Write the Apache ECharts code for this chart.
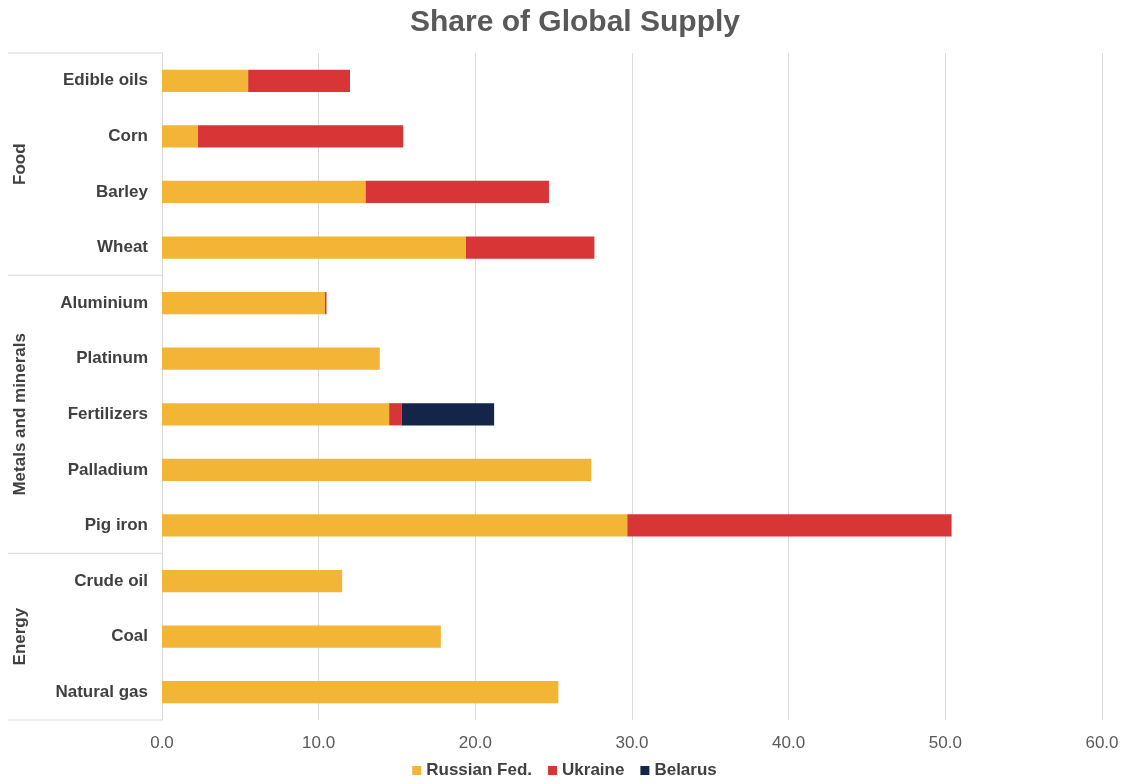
<!DOCTYPE html>
<html>
<head>
<meta charset="utf-8">
<script src="https://cdn.jsdelivr.net/npm/echarts@6/dist/echarts.min.js"></script>
<style>html,body{margin:0;padding:0;background:#fff}#c{width:1129px;height:784px}</style>
</head>
<body>
<div id="c"></div>
<script>
const categories = ['Edible oils','Corn','Barley','Wheat','Aluminium','Platinum','Fertilizers','Palladium','Pig iron','Crude oil','Coal','Natural gas'];
const russia  = [5.5, 2.3, 13.0, 19.4, 10.4, 13.9, 14.5, 27.4, 29.7, 11.5, 17.8, 25.3];
const ukraine = [6.5, 13.1, 11.7, 8.2, 0.1, 0, 0.8, 0, 20.7, 0, 0, 0];
const belarus = [0, 0, 0, 0, 0, 0, 5.9, 0, 0, 0, 0, 0];
const groups = [
  {name:'Food', first:'Edible oils', last:'Wheat'},
  {name:'Metals and minerals', first:'Aluminium', last:'Pig iron'},
  {name:'Energy', first:'Crude oil', last:'Natural gas'}
];
const xTicks = {min:0, max:60, interval:10};

const chart = echarts.init(document.getElementById('c'));
const font = 'Liberation Sans, Arial, sans-serif';
const mk = (name, data, color) => ({
  name, type:'bar', stack:'s', data, barWidth:'40%',
  itemStyle:{color}, emphasis:{disabled:true}
});
chart.setOption({
  animation:false,
  title:{text:'Share of Global Supply', left:570, textAlign:'center', top:3,
    textStyle:{fontFamily:font, fontSize:30, fontWeight:'bold', color:'#595959'}},
  grid:{left:162, right:27, top:53, bottom:64, containLabel:false},
  legend:{bottom:0, left:'center', itemWidth:9, itemHeight:9, itemGap:16, icon:'rect',
    textStyle:{fontFamily:font, fontSize:17, fontWeight:'bold', color:'#404040'},
    data:['Russian Fed.','Ukraine','Belarus']},
  xAxis:{type:'value', min:xTicks.min, max:xTicks.max, interval:xTicks.interval,
    axisLine:{show:false}, axisTick:{show:false},
    splitLine:{lineStyle:{color:'#d9d9d9'}},
    axisLabel:{formatter:v=>v.toFixed(1), fontFamily:font, fontSize:17, color:'#595959', margin:15}},
  yAxis:{type:'category', data:categories, inverse:true,
    axisLine:{lineStyle:{color:'#d9d9d9'}}, axisTick:{show:false},
    axisLabel:{fontFamily:font, fontSize:17, fontWeight:'bold', color:'#404040', margin:14}},
  series:[mk('Russian Fed.', russia, '#F2B535'), mk('Ukraine', ukraine, '#D73536'), mk('Belarus', belarus, '#13264A')]
});

function drawGroups(){
  const yOf = c => chart.convertToPixel({yAxisIndex:0}, c);
  const band = yOf(categories[1]) - yOf(categories[0]);
  const left = chart.convertToPixel({xAxisIndex:0}, 0);
  const els = [];
  const top = yOf(categories[0]) - band/2;
  els.push({type:'line', shape:{x1:8, y1:top, x2:left, y2:top}, style:{stroke:'#d9d9d9', lineWidth:1}});
  groups.forEach(g => {
    const y0 = yOf(g.first) - band/2, y1 = yOf(g.last) + band/2;
    els.push({type:'line', shape:{x1:8, y1:y1, x2:left, y2:y1}, style:{stroke:'#d9d9d9', lineWidth:1}});
    els.push({type:'text', x:20, y:(y0+y1)/2, rotation:Math.PI/2,
      style:{text:g.name, fontFamily:font, fontSize:17, fontWeight:'bold', fill:'#404040', align:'center', verticalAlign:'middle'}});
  });
  chart.setOption({graphic:els});
}
drawGroups();
</script>
</body>
</html>
